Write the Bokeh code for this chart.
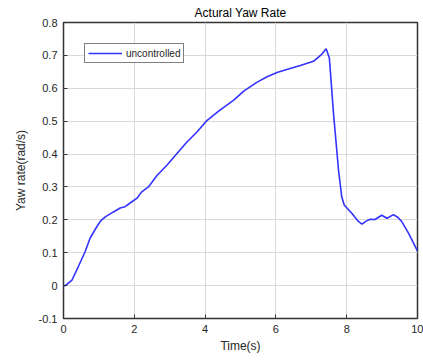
from bokeh.plotting import figure
from bokeh.models import Range1d, FixedTicker, Legend, LegendItem, Title
from bokeh.embed import file_html
from bokeh.resources import INLINE

time_s = [0, 0.05, 0.24, 0.42, 0.61, 0.75, 0.94, 1.05, 1.18, 1.41, 1.6, 1.74, 1.93,
          2.07, 2.21, 2.4, 2.64, 2.92, 3.2, 3.48, 3.77, 4.05, 4.4, 4.8, 5.1, 5.46, 5.75,
          6.03, 6.4, 6.69, 7.06, 7.3, 7.42, 7.51, 7.63, 7.77, 7.86, 7.93, 8.15,
          8.33, 8.43, 8.55, 8.66, 8.8, 8.99, 9.14, 9.32, 9.45, 9.56, 9.75, 10.0]
yaw_rate = [0, 0.0, 0.017, 0.058, 0.103, 0.144, 0.179, 0.197, 0.209, 0.224, 0.236,
            0.24, 0.255, 0.265, 0.285, 0.30, 0.335, 0.366, 0.401, 0.436, 0.467,
            0.502, 0.532, 0.563, 0.592, 0.618, 0.635, 0.648, 0.66, 0.669, 0.682,
            0.704, 0.72, 0.692, 0.52, 0.35, 0.27, 0.245, 0.219, 0.195, 0.187, 0.196,
            0.202, 0.201, 0.214, 0.205, 0.216, 0.207, 0.194, 0.159, 0.105]

x_ticks = [0, 2, 4, 6, 8, 10]
y_ticks = [-0.1, 0, 0.1, 0.2, 0.3, 0.4, 0.5, 0.6, 0.7, 0.8]
y_tick_labels = ["-0.1", "0", "0.1", "0.2", "0.3", "0.4", "0.5", "0.6", "0.7", "0.8"]

FONT = "Liberation Sans"
TXT = "#262626"
AX = "#333333"

p = figure(width=423, height=360, output_backend="svg", toolbar_location=None,
           x_range=Range1d(0, 10), y_range=Range1d(-0.1, 0.8),
           min_border_left=63, min_border_right=6, min_border_top=21, min_border_bottom=42)

r = p.line(time_s, yaw_rate, line_color="#3333ff", line_width=1.6)

p.outline_line_color = AX
p.outline_line_width = 1.5
p.outline_line_alpha = 1

for ax in (p.xaxis[0], p.yaxis[0]):
    ax.axis_line_color = None
    ax.major_tick_in = 4
    ax.major_tick_out = 0
    ax.major_tick_line_color = AX
    ax.minor_tick_line_color = None
    ax.major_label_text_font = FONT
    ax.major_label_text_font_size = "11px"
    ax.major_label_text_color = TXT
    ax.axis_label_text_font = FONT
    ax.axis_label_text_font_size = "12px"
    ax.axis_label_text_font_style = "normal"
    ax.axis_label_text_color = TXT

p.xaxis.ticker = FixedTicker(ticks=x_ticks)
p.yaxis.ticker = FixedTicker(ticks=y_ticks)
p.yaxis.major_label_overrides = dict(zip(y_ticks, y_tick_labels))
p.xaxis.axis_label = "Time(s)"
p.yaxis.axis_label = "Yaw rate(rad/s)"
p.xaxis.major_label_standoff = 6
p.xaxis.axis_label_standoff = 3
p.yaxis.major_label_standoff = 6
p.yaxis.axis_label_standoff = 8

p.add_layout(Title(text="Actural Yaw Rate", align="center", text_font=FONT,
                   text_font_size="12px", text_font_style="normal",
                   text_color="#000000", standoff=6), "above")

p.grid.grid_line_color = "#d9d9d9"
p.grid.grid_line_width = 1
p.xgrid.ticker = FixedTicker(ticks=x_ticks)
p.ygrid.ticker = FixedTicker(ticks=y_ticks)

legend = Legend(items=[LegendItem(label="uncontrolled", renderers=[r])],
                location=(21, 255))
legend.border_line_color = "#000000"
legend.border_line_width = 1
legend.background_fill_color = "white"
legend.label_text_font = FONT
legend.label_text_font_size = "10px"
legend.label_text_color = TXT
legend.glyph_width = 34
legend.glyph_height = 12
legend.label_height = 12
legend.label_standoff = 4
legend.padding = 3
legend.margin = 0
p.add_layout(legend, "center")

open("out.html", "w").write(file_html(p, INLINE))
